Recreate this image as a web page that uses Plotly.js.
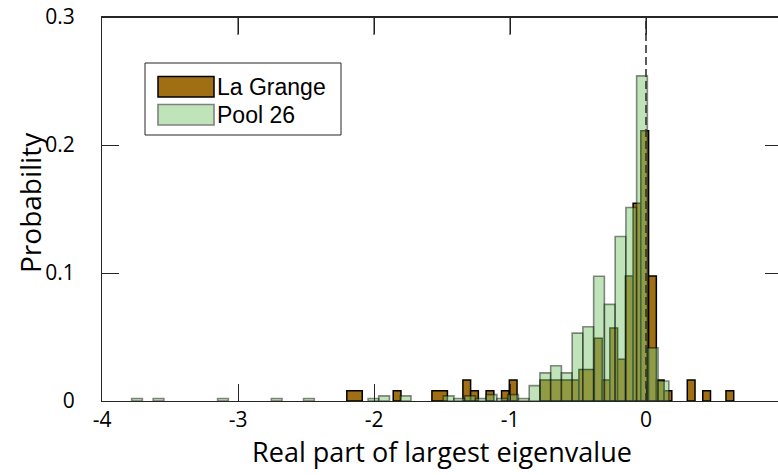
<!DOCTYPE html>
<html>
<head>
<meta charset="utf-8">
<script src="https://cdn.plot.ly/plotly-3.0.1.min.js"></script>
<style>
html,body{margin:0;padding:0;overflow:hidden;background:#fff;}
#chart{width:800px;height:475px;}
</style>
</head>
<body>
<div id="chart"></div>
<script>
// ---- Data ----
const seriesNames = ["La Grange", "Pool 26"];

// La Grange histogram: uniform bins, probability per bin
const laGrangeBinStart = -2.2;
const laGrangeBinSize = 0.0569;
const laGrangeProb = [
  0.008, 0.008, 0, 0, 0, 0, 0.008, 0, 0, 0,
  0, 0.008, 0.008, 0, 0, 0.0164, 0.008, 0, 0.008, 0,
  0.008, 0.0164, 0, 0, 0, 0.0164, 0.0164, 0.0164, 0.0164, 0.0164,
  0.0247, 0.0247, 0.049, 0.0164, 0.057, 0.0327, 0.0976, 0.1545, 0.2112, 0.0976,
  0.0164, 0.008, 0, 0, 0.0164, 0, 0.008, 0, 0, 0.008
];

// Pool 26 histogram: uniform bins, probability per bin
const pool26BinStart = -3.782;
const pool26BinSize = 0.079;
const pool26Prob = [
  0.002, 0, 0.002, 0, 0, 0, 0, 0, 0.002, 0,
  0, 0, 0, 0.002, 0, 0, 0.002, 0, 0, 0,
  0, 0, 0.002, 0.004, 0, 0.004, 0, 0, 0, 0.004,
  0.002, 0.004, 0.002, 0.005, 0.002, 0.005, 0.002, 0.012, 0.022, 0.0275,
  0.022, 0.053, 0.058, 0.0975, 0.0755, 0.1285, 0.1512, 0.254, 0.0415, 0.0156
];

const xTickVals = [-4, -3, -2, -1, 0];
const xTickText = ["-4", "-3", "-2", "-1", "0"];
const yTickVals = [0, 0.1, 0.2, 0.3];
const yTickText = ["0", "0.1", "0.2", "0.3"];

// ---- Build bars ----
// La Grange: adjacent bins with equal probability are drawn as one bar
function mergedBars(start, size, probs) {
  const xs = [], ws = [], ys = [];
  let i = 0;
  while (i < probs.length) {
    if (probs[i] <= 0) { i++; continue; }
    let j = i;
    while (j + 1 < probs.length && probs[j + 1] === probs[i]) j++;
    const left = start + i * size, right = start + (j + 1) * size;
    xs.push((left + right) / 2); ws.push(right - left); ys.push(probs[i]);
    i = j + 1;
  }
  return {xs, ws, ys};
}
function plainBars(start, size, probs) {
  const xs = [], ws = [], ys = [];
  probs.forEach((p, i) => {
    if (p > 0) { xs.push(start + (i + 0.5) * size); ws.push(size); ys.push(p); }
  });
  return {xs, ws, ys};
}
const lg = mergedBars(laGrangeBinStart, laGrangeBinSize, laGrangeProb);
const pl = plainBars(pool26BinStart, pool26BinSize, pool26Prob);

const orangeFill = "rgb(160,111,20)";
const greenFill = "rgba(130,200,115,0.5)";
const greenEdge = "rgba(0,0,0,0.45)";

const traces = [
  {type: "bar", name: seriesNames[0], x: lg.xs, y: lg.ys, width: lg.ws,
   marker: {color: orangeFill, line: {color: "#000", width: 1.5}}, hoverinfo: "skip"},
  {type: "bar", name: seriesNames[1], x: pl.xs, y: pl.ys, width: pl.ws,
   marker: {color: greenFill, line: {color: greenEdge, width: 1.6}}, hoverinfo: "skip"}
];

// ---- Layout helpers (pixel -> paper) ----
const L = 102, R = 18, T = 17, B = 74, W = 800, H = 475;
const pw = W - L - R, ph = H - T - B;
const px = v => (v - L) / pw;
const py = v => (H - B - v) / ph;

const axisColor = "#262626";
const tickFont = {family: "Open Sans, sans-serif", size: 21, color: "#000"};
const titleFont = {family: "Open Sans, sans-serif", size: 27, color: "#000"};
const legendFont = {family: "Liberation Sans, Arial, sans-serif", size: 23, color: "#000"};

const shapes = [
  // top edge of the axes box
  {type: "line", xref: "paper", yref: "paper", x0: 0, x1: 1, y0: py(17.5), y1: py(17.5),
   line: {color: axisColor, width: 1.2}, layer: "above"},
  // zero reference line
  {type: "line", xref: "x", yref: "paper", x0: 0, x1: 0, y0: 0, y1: 1, layer: "above",
   line: {color: "#333", width: 1.6, dash: "8px,4px"}},
  // legend box
  {type: "rect", xref: "paper", yref: "paper", x0: px(145), x1: px(341), y0: py(63), y1: py(135),
   fillcolor: "#fff", line: {color: axisColor, width: 1}, layer: "above"},
  // legend swatches
  {type: "rect", xref: "paper", yref: "paper", x0: px(158), x1: px(214), y0: py(76.5), y1: py(97),
   fillcolor: orangeFill, line: {color: "#000", width: 1.5}, layer: "above"},
  {type: "rect", xref: "paper", yref: "paper", x0: px(158), x1: px(214), y0: py(104.5), y1: py(125),
   fillcolor: "rgb(192,228,185)", line: {color: "rgb(128,128,128)", width: 1.6}, layer: "above"}
];
// inward ticks hanging from the top edge, at the x tick values
xTickVals.slice(1).forEach(v => {
  shapes.push({type: "rect", xref: "x", yref: "paper", x0: v - 0.004, x1: v + 0.004,
    y0: py(35), y1: py(17.5), fillcolor: "#222", line: {width: 0}, layer: "above"});
});

const annotations = [
  {xref: "paper", yref: "paper", x: px(215), y: py(87), xanchor: "left", yanchor: "middle",
   text: seriesNames[0], showarrow: false, font: legendFont},
  {xref: "paper", yref: "paper", x: px(215), y: py(115), xanchor: "left", yanchor: "middle",
   text: seriesNames[1], showarrow: false, font: legendFont},
  // y-axis title
  {xref: "paper", yref: "paper", x: px(30), y: py(203), xanchor: "center", yanchor: "middle",
   text: "Probability", textangle: -90, showarrow: false,
   font: {family: titleFont.family, size: 28, color: "#000"}}
];

const layout = {
  width: W, height: H,
  margin: {l: L, r: R, t: T, b: B, pad: 0},
  paper_bgcolor: "#fff", plot_bgcolor: "#fff",
  barmode: "overlay", bargap: 0,
  showlegend: false,
  xaxis: {
    range: [-4, 1], tickvals: xTickVals, ticktext: xTickText,
    ticks: "inside", ticklen: 17, tickwidth: 1, tickcolor: axisColor,
    showline: true, linecolor: axisColor, linewidth: 1, mirror: "allticks",
    showgrid: false, zeroline: false, tickfont: tickFont,
    title: {text: "Real part of largest eigenvalue", font: titleFont, standoff: 7}
  },
  yaxis: {
    range: [0, 0.3], tickvals: yTickVals, ticktext: yTickText,
    ticks: "inside", ticklen: 17, tickwidth: 1, tickcolor: axisColor,
    showline: true, linecolor: axisColor, linewidth: 1, mirror: "ticks",
    showgrid: false, zeroline: false, tickfont: tickFont, ticklabelstandoff: 22
  },
  shapes: shapes,
  annotations: annotations
};

Plotly.newPlot("chart", traces, layout, {staticPlot: true, displayModeBar: false});
</script>
</body>
</html>
